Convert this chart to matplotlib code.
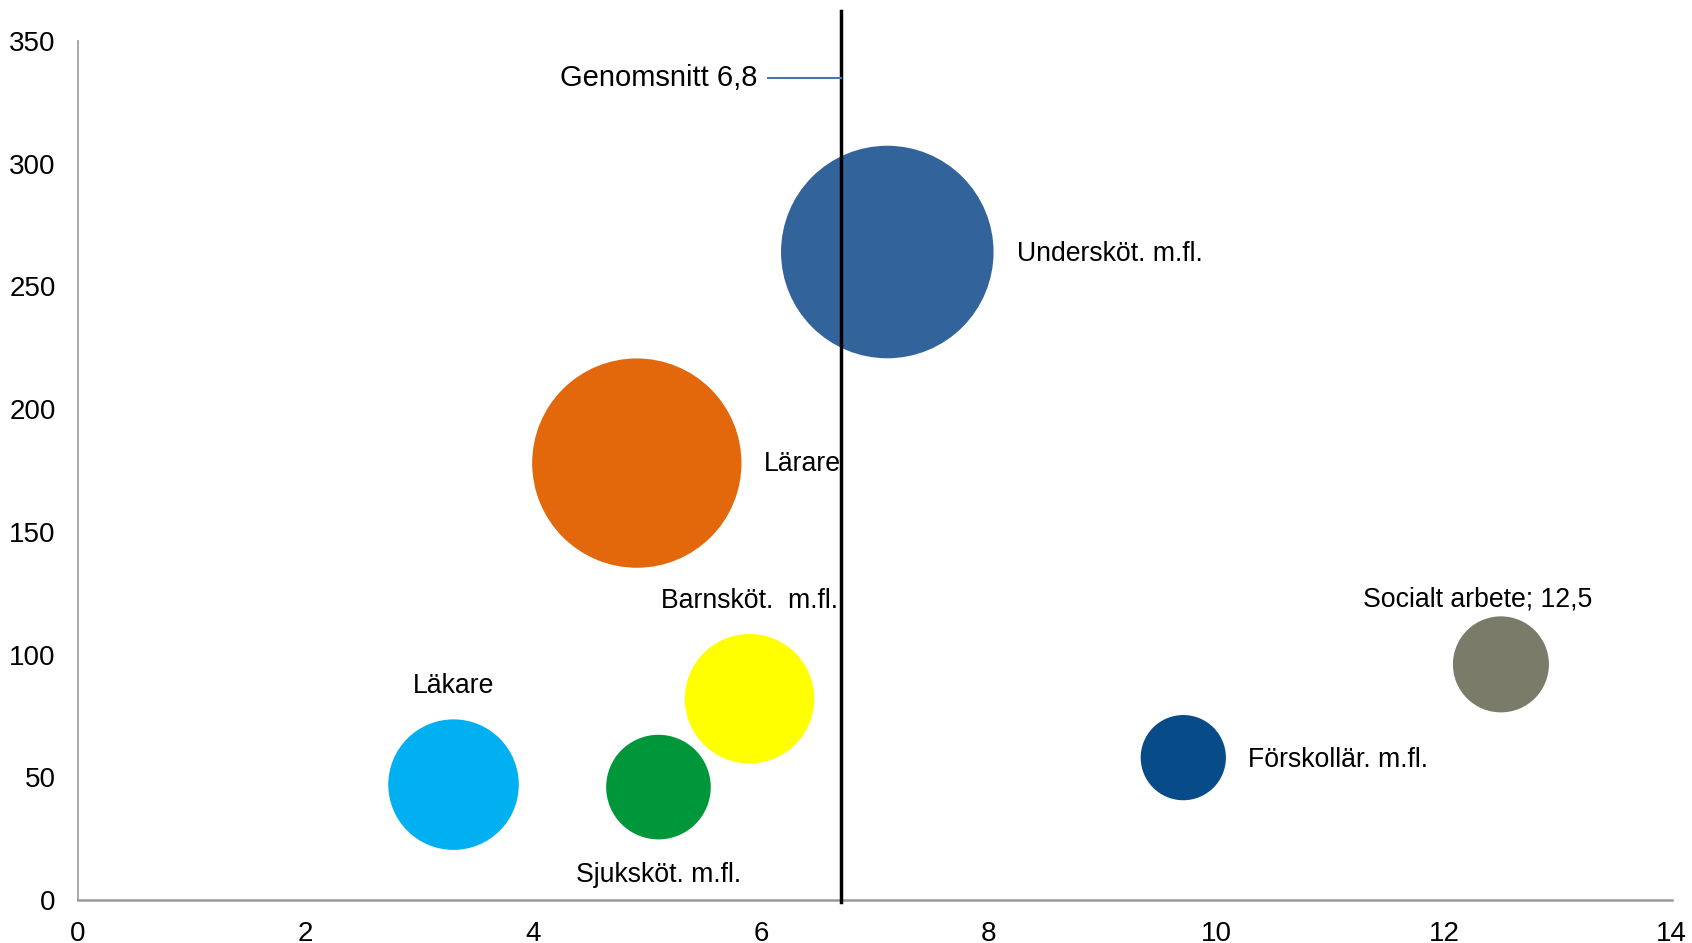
import matplotlib
matplotlib.use("Agg")
import matplotlib.pyplot as plt

plt.rcParams['font.family'] = ['Liberation Sans', 'DejaVu Sans']

names = ["Undersköt. m.fl.", "Lärare", "Barnsköt.  m.fl.", "Läkare",
         "Sjuksköt. m.fl.", "Förskollär. m.fl.", "Socialt arbete; 12,5"]
x_vals = [7.11, 4.91, 5.9, 3.3, 5.1, 9.71, 12.5]
y_vals = [264, 178, 82, 47, 46, 58, 96]
sizes = [97.0, 94.1, 36.0, 36.6, 23.5, 15.6, 19.8]
colors = ["#32639A", "#E3680B", "#FFFF00", "#00B0F0", "#00963A", "#074C88", "#7B7B69"]
average = 6.7
avg_label = "Genomsnitt 6,8"

x_ticks = [0, 2, 4, 6, 8, 10, 12, 14]
y_ticks = [0, 50, 100, 150, 200, 250, 300, 350]

fig = plt.figure(figsize=(16.92, 9.43), dpi=100)
ax = fig.add_axes([0.046, 0.0456, 0.942, 0.911])

ax.scatter(x_vals, y_vals, s=[v * 241.4 for v in sizes], c=colors, linewidths=0, zorder=2)

ax.set_xlim(0, 14)
ax.set_ylim(0, 350)
ax.set_xticks(x_ticks)
ax.set_yticks(y_ticks)
ax.tick_params(length=0, labelsize=20)
ax.tick_params(axis='y', pad=16)
ax.tick_params(axis='x', pad=15)
for s in ['top', 'right']:
    ax.spines[s].set_visible(False)
ax.spines['left'].set_color('#999999')
ax.spines['bottom'].set_color('#999999')
ax.spines['bottom'].set_linewidth(1.8)
ax.spines['left'].set_linewidth(1.2)

# average line
ax.plot([average, average], [-1, 362], color='black', lw=2.5, clip_on=False, zorder=3)
ax.plot([6.06, average], [335, 335], color='#4A76A8', lw=1.5, zorder=3)
ax.text(5.97, 335, avg_label, ha='right', va='center', fontsize=21)

# labels
fs = 19.2
ax.text(8.25, 263, names[0], ha='left', va='center', fontsize=fs)
ax.text(6.03, 177.5, names[1], ha='left', va='center', fontsize=fs)
ax.text(6.68, 122, names[2], ha='right', va='center', fontsize=fs)
ax.text(3.3, 87, names[3], ha='center', va='center', fontsize=fs)
ax.text(5.1, 10, names[4], ha='center', va='center', fontsize=fs)
ax.text(10.28, 57, names[5], ha='left', va='center', fontsize=fs)
ax.text(12.3, 122.5, names[6], ha='center', va='center', fontsize=fs)

fig.savefig("out.png", dpi=100)
